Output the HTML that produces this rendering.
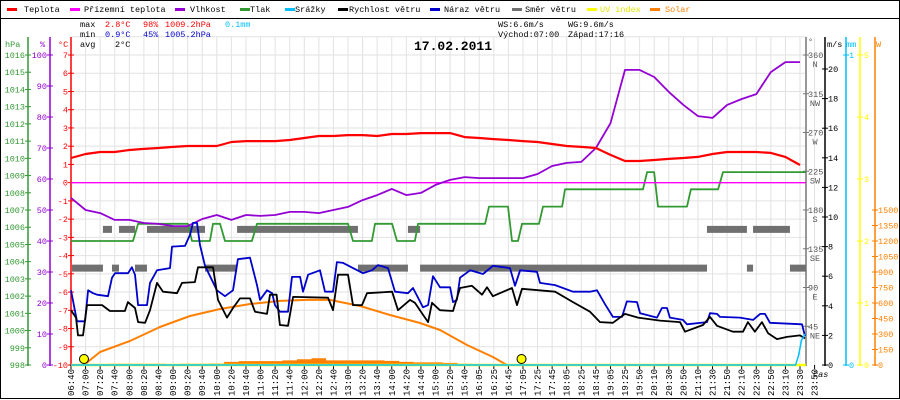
<!DOCTYPE html>
<html><head><meta charset="utf-8"><style>
html,body{margin:0;padding:0;background:#fff;}
svg{display:block;font-family:"Liberation Mono",monospace;font-size:8.5px;}
</style></head><body>
<svg id="c" width="900" height="400" viewBox="0 0 900 400"></svg>
<script>
// ---- data ----
const timeLabels=["06:40","07:00","07:20","07:40","08:00","08:20","08:40","09:00","09:20","09:40","10:00","10:20","10:40","11:00","11:20","11:40","12:00","12:20","12:40","13:00","13:20","13:40","14:00","14:20","14:40","15:00","15:20","15:40","16:05","16:25","16:45","17:05","17:25","17:45","18:05","18:25","18:45","19:05","19:25","19:50","20:10","20:30","20:50","21:10","21:30","21:50","22:10","22:30","22:50","23:10","23:30","23:50"];
const tempVals=[1.35,1.57,1.68,1.68,1.79,1.85,1.9,1.96,2.01,2.01,2.01,2.23,2.28,2.28,2.28,2.34,2.45,2.56,2.56,2.61,2.61,2.56,2.67,2.67,2.72,2.72,2.72,2.5,2.45,2.39,2.34,2.28,2.23,2.12,2.01,1.96,1.9,1.52,1.19,1.19,1.24,1.3,1.35,1.41,1.57,1.68,1.68,1.68,1.63,1.41,0.97];
const humVals=[53.9,50,49,46.8,46.8,45.8,45.5,44.8,44.8,47.1,48.4,46.8,48.4,48.1,48.4,49.4,49.4,49,50,51,53.2,54.8,56.8,54.8,55.5,58.1,59.7,60.6,60.3,60.3,60.3,60.3,61.6,64.2,65.2,65.5,70,78,95.2,95.2,92.9,88.1,83.9,80.3,79.7,83.9,85.8,87.4,94.5,97.7,97.7];
const apparentVals=[0,0];
const apparentTimes=[0,50.4];
const pressTimes=[0,4.25,4.6,8.02,8.3,9.53,9.74,10.22,10.56,12.41,12.76,19.0,19.34,20.64,20.85,22.02,22.36,23.59,23.8,28.4,28.67,29.97,30.25,30.66,30.93,32.1,32.37,33.68,33.88,39.23,39.51,39.99,40.26,42.25,42.52,44.38,44.72,50.4];
const pressVals=[1005.2,1005.2,1006.2,1006.2,1005.2,1005.2,1006.2,1006.2,1005.2,1005.2,1006.2,1006.2,1005.2,1005.2,1006.2,1006.2,1005.2,1005.2,1006.2,1006.2,1007.2,1007.2,1005.2,1005.2,1006.2,1006.2,1007.2,1007.2,1008.2,1008.2,1009.2,1009.2,1007.2,1007.2,1008.2,1008.2,1009.2,1009.2];
const windTimes=[0,0.34,0.48,0.82,1.1,2.13,2.67,3.7,3.9,4.39,4.6,5.08,5.42,5.9,6.31,7.27,7.61,8.5,8.71,9.74,10.08,10.7,11.11,11.59,12.28,12.62,13.44,13.65,14.1,14.33,14.88,15.23,17.63,17.97,18.31,19.0,19.34,19.96,20.3,22.02,22.43,23.25,23.59,24.14,24.49,24.76,25.3,26.2,26.68,27.5,28.19,28.53,28.94,30.25,30.59,30.93,33.2,34.43,35.6,36.28,37.17,38.0,38.89,40.4,41.77,42.11,43.35,43.83,44.31,45.4,46.09,46.43,46.91,47.39,47.81,48.42,49.11,50.0,50.34];
const windVals=[3.7,3.2,2.0,2.0,4.05,4.05,3.65,3.65,4.25,3.85,2.9,2.85,3.7,5.55,4.95,4.85,5.55,5.6,6.6,6.6,4.4,3.2,3.85,4.5,4.5,3.6,3.45,4.75,4.75,2.7,2.65,4.6,4.55,3.7,6.1,6.1,4.05,4.05,4.85,4.95,3.7,4.4,4.2,3.4,2.9,4.2,3.7,3.65,5.2,5.35,4.75,5.25,4.65,5.2,4.05,5.15,4.95,4.25,3.6,2.9,2.85,3.45,3.2,3.0,2.9,2.25,2.7,3.25,2.65,2.25,2.25,2.9,2.25,2.9,2.15,1.75,1.9,2.0,1.8];
const gustTimes=[0,0.41,0.96,1.17,1.51,1.78,2.54,2.81,3.02,3.91,4.18,4.39,4.6,5.21,5.42,5.9,6.79,6.93,7.82,8.16,8.37,8.64,8.85,9.19,10.01,10.56,11.11,11.45,12.28,12.76,12.96,13.44,13.79,13.99,14.33,14.88,15.16,15.71,15.91,16.26,17.08,17.42,17.97,18.24,18.66,19.34,20.03,20.64,21.06,21.74,22.22,23.11,23.46,24.14,24.49,24.83,25.31,26.0,26.2,26.47,26.68,27.37,28.26,28.94,30.11,30.45,30.8,31.96,32.17,33.2,34.43,35.6,36.08,36.63,37.17,37.79,38.13,38.82,39.03,40.19,40.53,40.88,41.08,41.97,42.25,43.62,43.83,44.31,44.51,45.88,46.78,47.26,47.6,47.94,50.14,50.34];
const gustVals=[5.05,2.95,2.95,5.05,4.85,4.75,4.65,5.9,6.2,6.2,6.6,6.1,4.05,4.05,5.55,6.4,6.55,8.0,8.05,8.8,9.6,9.6,8.1,6.7,5.05,4.65,5.05,7.15,7.25,5.4,4.4,5.05,4.85,4.05,3.6,3.6,5.95,5.95,4.95,6.1,6.4,4.95,4.95,6.95,6.9,6.55,6.2,6.4,6.75,6.55,4.95,4.85,5.2,3.9,4.05,6.0,5.25,5.25,4.25,4.4,5.9,6.4,6.15,6.7,6.55,5.35,6.4,6.3,5.55,5.4,4.95,4.95,5.05,4.1,3.25,3.25,4.3,4.25,3.5,3.2,3.85,3.85,3.2,3.05,2.75,2.9,3.5,3.45,3.25,3.2,3.05,3.45,3.45,2.85,2.75,1.95];
const dirTimes=[0.07,2.19,2.81,3.29,4.39,5.21,9.19,11.39,19.68,23.11,23.94,43.62,46.36,46.78,49.31];
const dirEnd=50.41;
const dirVals=[112.5,157.5,112.5,157.5,112.5,157.5,112.5,157.5,112.5,157.5,112.5,157.5,112.5,157.5,112.5];
const solarTimes=[0.89,1.99,4.05,6.1,8.16,10.22,12.28,14.33,16.39,17.76,19.82,21.88,23.94,25.31,27.16,28.94,29.9];
const solarVals=[0,126,232,368,474,542,590,620,632,630,571,484,406,339,194,77,0];
const solarMeasVals=[0,0,0,12,12,12,12,10,12,12,15,30,38,38,38,45,55,65,45,45,45,45,40,30,25,25,20,12,10,0,0,0,0,0,0,0,0,0,0,0,0,0,0,0,0,0,0,0,0,0,0];
const rainTimes=[0,49.7,49.9,50.1,50.34];
const rainVals=[0,0,0.03,0.08,0.1];
const uvTimes=[0,50.4];
const uvVals=[0,0];
const sunTimes=[0.89,30.9];
const hpaTicks=[998,999,1000,1001,1002,1003,1004,1005,1006,1007,1008,1009,1010,1011,1012,1013,1014,1015,1016];
const humTicks=[0,10,20,30,40,50,60,70,80,90,100];
const tempTicks=[-10,-9,-8,-7,-6,-5,-4,-3,-2,-1,0,1,2,3,4,5,6,7];
const dirTicks=[45,90,135,180,225,270,315,360];
const dirNames=["NE","E","SE","S","SW","W","NW","N"];
const msTicks=[0,2,4,6,8,10,12,14,16,18,20];
const mmTicks=[0,1];
const uvTicks=[0,1,2,3,4,5];
const wTicks=[0,150,300,450,600,750,900,1050,1200,1350,1500];

// ---- scales ----
const X=i=>71+i*14.58;
const yC=t=>365-(t+10)*18.235;
const yH=h=>365-h*3.1;
const yP=p=>365-(p-998)*17.222;
const yV=v=>365-v*14.8;
const yD=d=>365-d*0.8611;
const yW=w=>365-w*0.10333;
const yMM=m=>365-m*310;
const yUV=u=>365-u*62;

const NS="http://www.w3.org/2000/svg";
const svg=document.getElementById('c');
function el(tag,attrs,parent){const e=document.createElementNS(NS,tag);for(const k in attrs)e.setAttribute(k,attrs[k]);(parent||svg).appendChild(e);return e;}
function txt(x,y,s,fill,anchor,parent,extra){const t=el('text',Object.assign({x:x,y:y,fill:fill||'#000','text-anchor':anchor||'start'},extra||{}),parent);t.textContent=s;return t;}
function grp(name){const g=el('g',{});return g;}

// frame
const frame=grp('chart-frame');
el('rect',{x:0.5,y:18.5,width:899,height:380,fill:'none',stroke:'#000'},frame);
el('line',{x1:0,y1:0.5,x2:900,y2:0.5,stroke:'#000'},frame);
el('line',{x1:0.5,y1:0,x2:0.5,y2:18,stroke:'#000'},frame);
el('line',{x1:899.5,y1:0,x2:899.5,y2:18,stroke:'#000'},frame);

// grid
const grid=grp('grid');
for(let t=-10;t<=8;t++){el('line',{x1:71,x2:806,y1:yC(t),y2:yC(t),stroke:'#e2e2e2'},grid);}
timeLabels.forEach((l,i)=>{el('line',{x1:X(i),x2:X(i),y1:37,y2:365,stroke:'#e2e2e2'},grid);});

// legend
const legendItems=[["Teplota","#ff0000",7,24],["Přízemní teplota","#ff00ff",70,84],["Vlhkost","#9400d3",175,190],["Tlak","#339933",240,250],["Srážky","#00bfff",285,295],["Rychlost větru","#000000",338,349],["Náraz větru","#0000cc",430,444],["Směr větru","#707070",512,525],["UV index","#ffff00",587,600],["Solar","#ff8000",650,665]];
const legend=grp('legend');
legendItems.forEach(it=>{
  const g=el('g',{},legend);
  
  
  el('rect',{x:it[2],y:8,width:10,height:3,fill:it[1]},g);
  txt(it[3],12,it[0],it[1]==='#ffff00'?'#e6e600':(it[1]==='#ff8000'?'#ff8000':'#000'),'start',g);
});

// stats
const stats=grp('stats');
txt(80,27,'max','#000','start',stats);txt(105,27,'2.8°C','#ff0000','start',stats);txt(143,27,'98%','#ff0000','start',stats);txt(165,27,'1009.2hPa','#ff0000','start',stats);txt(225,27,'0.1mm','#00bfff','start',stats);
txt(80,37,'min','#000','start',stats);txt(105,37,'0.9°C','#0000cc','start',stats);txt(143,37,'45%','#0000cc','start',stats);txt(165,37,'1005.2hPa','#0000cc','start',stats);
txt(80,47,'avg','#000','start',stats);txt(115,47,'2°C','#000','start',stats);
txt(498,27,'WS:6.6m/s','#000','start',stats);txt(568,27,'WG:9.6m/s','#000','start',stats);
txt(498,37,'Východ:07:00','#000','start',stats);txt(568,37,'Západ:17:16','#000','start',stats);
const title=txt(414,50,'17.02.2011','#000','start',svg,{'font-size':'13','font-weight':'bold'});



// left axes
function vaxis(name,x,color,ticks,fy,fmt,side,lx){
  const g=grp(name);
  el('line',{x1:x,x2:x,y1:37,y2:366,stroke:color,'stroke-width':1.5},g);
  ticks.forEach(v=>{const y=fy(v);
    el('line',{x1:x-3,x2:x+3,y1:y,y2:y,stroke:color},g);
    txt(lx,y+3,fmt(v),color,side,g);});
  return g;
}
vaxis('hpa-axis',28,'#339933',hpaTicks,yP,v=>String(v),'end',25);
vaxis('humidity-axis',50,'#9400d3',humTicks,yH,v=>String(v),'end',47);
vaxis('temp-axis',71,'#ff0000',tempTicks,yC,v=>String(v),'end',68);
txt(5,47,'hPa','#339933','start',svg);
txt(40,47,'%','#9400d3','start',svg);
txt(58,47,'°C','#ff0000','start',svg);

// right axes
const dg=grp('direction-axis');
el('line',{x1:806,x2:806,y1:37,y2:366,stroke:'#777','stroke-width':1.5},dg);
dirTicks.forEach((d,k)=>{const y=yD(d);el('line',{x1:803,x2:809,y1:y,y2:y,stroke:'#777'},dg);
  txt(808,y+3,String(d),'#555','start',dg);txt(815,y+12,dirNames[k],'#555','middle',dg);});
txt(808,44,'°','#555','start',dg);
vaxis('wind-speed-axis',825,'#000',msTicks,yV,v=>String(v),'start',828);
txt(827,47,'m/s','#000','start',svg);
vaxis('rain-axis',846,'#00bfff',mmTicks,yMM,v=>String(v),'start',849);
txt(846,47,'mm','#00bfff','start',svg);
vaxis('uv-axis',860,'#ffff00',uvTicks,yUV,v=>String(v),'start',864);
txt(876,47,'W','#ff8000','start',svg);
vaxis('solar-axis',875,'#ff8000',wTicks,yW,v=>String(v),'start',878);

// x axis
const xg=grp('x-axis');
timeLabels.forEach((l,i)=>{
  el('line',{x1:X(i),x2:X(i),y1:365,y2:369,stroke:'#000'},xg);
  txt(0,0,l,'#000','end',xg,{transform:`translate(${X(i)+3},369) rotate(-90)`,'font-size':'9'});
});
txt(813,377,'čas','#000','start',xg,{'font-style':'italic'});

// series helpers
function line(name,times,vals,fy,color,w){
  let d='';times.forEach((t,k)=>{d+=(k?'L':'M')+X(t).toFixed(1)+','+fy(vals[k]).toFixed(1);});
  const p=el('path',{d:d,fill:'none',stroke:color,'stroke-width':w||1.5,'stroke-linejoin':'round'});
  
  
  return p;
}
const idx=timeLabels.map((l,i)=>i);

// solar measured area
{let d='M'+X(0)+','+yW(0);solarMeasVals.forEach((v,i)=>{d+='L'+X(i-0.5<0?0:i-0.5).toFixed(1)+','+yW(v).toFixed(1)+'L'+X(Math.min(i+0.5,50)).toFixed(1)+','+yW(v).toFixed(1);});d+='L'+X(50)+','+yW(0)+'Z';
 const p=el('path',{d:d,fill:'#ff8000'});}
// direction bars
const dirG=grp('wind-direction-series');
dirTimes.forEach((t,k)=>{const t2=k<dirTimes.length-1?dirTimes[k+1]:dirEnd;
  const r=el('rect',{x:X(t),y:yD(dirVals[k])-3.5,width:X(t2)-X(t),height:7,fill:'#707070'},dirG);
  
  });
line('solar-line',solarTimes,solarVals,yW,'#ff8000',2);
line('pressure-line',pressTimes,pressVals,yP,'#339933',1.8);
line('apparent-temp-line',apparentTimes,apparentVals,yC,'#ff00ff',1.3);
line('humidity-line',idx,humVals,yH,'#9400d3',1.8);
line('temperature-line',idx,tempVals,yC,'#ff0000',2.2);
line('gust-line',gustTimes,gustVals,yV,'#0000cc',1.8);
line('wind-speed-line',windTimes,windVals,yV,'#000',1.8);
line('uv-line',uvTimes,uvVals,yUV,'#ffff00',2.5);
line('rain-line',rainTimes,rainVals,yMM,'#00bfff',1.5);
sunTimes.forEach((t,k)=>{const c=el('circle',{cx:X(t),cy:359,r:4.5,fill:'#ffff00',stroke:'#000','stroke-width':1});
  
  });
</script>
</body></html>
